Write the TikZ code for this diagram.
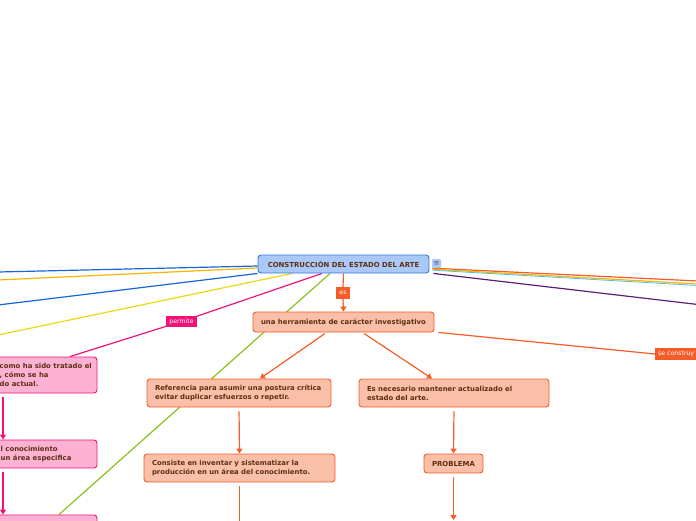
\documentclass[tikz,border=0pt]{standalone}
\usepackage{fontspec}
\setmainfont{DejaVu Sans}
\usetikzlibrary{arrows.meta,backgrounds}
\definecolor{texto}{RGB}{92,48,16}
\definecolor{cenfondo}{RGB}{170,201,249}
\definecolor{cenborde}{RGB}{52,118,220}
\definecolor{naranja}{RGB}{244,92,40}
\definecolor{salmon}{RGB}{249,191,168}
\definecolor{fucsia}{RGB}{240,18,120}
\definecolor{rosado}{RGB}{253,178,212}
\definecolor{azul}{RGB}{22,102,212}
\definecolor{ambar}{RGB}{246,182,0}
\definecolor{amarillo}{RGB}{236,216,20}
\definecolor{verde}{RGB}{140,192,30}
\definecolor{morado}{RGB}{96,28,120}
\definecolor{celeste}{RGB}{80,190,230}
\definecolor{gris}{RGB}{80,80,80}
\begin{document}
\begin{tikzpicture}[x=1pt, y=-1pt,
    font=\fontsize{6.9}{9}\selectfont\bfseries,
    caja/.style={rounded corners=3pt, line width=0.9pt, text=texto, inner sep=0pt},
    central/.style={caja, draw=cenborde, fill=cenfondo, minimum width=171pt, minimum height=18pt},
    menu/.style={fill=cenfondo, rounded corners=1pt, minimum size=9pt, inner sep=0pt,
        text=gris, font=\fontsize{7}{7}\selectfont},
    idea/.style={caja, draw=naranja, fill=salmon, minimum height=28pt, align=left},
    rosa/.style={caja, draw=fucsia, fill=rosado},
    etiqueta/.style={fill=#1, text=white, font=\fontsize{6.2}{7}\selectfont,
        inner xsep=3pt, inner ysep=0pt, minimum height=11.5pt},
    linea/.style={draw=#1, line width=1.2pt},
    flecha/.style={linea=#1, -{Triangle[length=5pt, width=6pt]}}]
  \useasboundingbox (0,0) rectangle (696,520);
  \clip (0,0) rectangle (696,520);

  % centro
  \node[central] (arte) at (343.5,264) {CONSTRUCCIÓN DEL ESTADO DEL ARTE};
  \node[menu] (menu) at (436.5,263.5) {≡};
  \node[etiqueta=naranja] (es) at (343,293) {es};

  % rama naranja
  \node[idea, minimum width=181pt, minimum height=20pt, align=center] (herr) at (343.5,322)
    {una herramienta de carácter investigativo};
  \node[idea, text width=168pt, inner xsep=8pt] (ref) at (239,393)
    {Referencia para asumir una postura crítica\\evitar duplicar esfuerzos o repetir.};
  \node[idea, text width=174pt, inner xsep=8pt] (nec) at (454,393)
    {Es necesario mantener actualizado el\\estado del arte.};
  \node[idea, text width=175pt, inner xsep=8pt] (cons) at (239.5,468)
    {Consiste en inventar y sistematizar la\\producción en un área del conocimiento.};
  \node[idea, minimum width=59pt, minimum height=19pt] (prob) at (453.5,463.5) {PROBLEMA};
  \node[etiqueta=naranja, anchor=west] (construye) at (655,354) {se construy};

  % rama rosa
  \node[etiqueta=fucsia] (permite) at (181.5,321.5) {permite};
  \node[rosa, minimum width=188pt, minimum height=36pt] (trato) at (3,375) {};
  \node[anchor=west, align=left, text=texto, inner sep=0pt] (tratotxt) at (-0.5,375)
    {como ha sido tratado el\\, cómo se ha\\do actual.};
  \node[rosa, minimum width=188pt, minimum height=28pt] (area) at (3,454) {};
  \node[anchor=west, align=left, text=texto, inner sep=0pt] (areatxt) at (0.5,454)
    {l conocimiento\\un área especifica};
  \node[rosa, minimum width=188pt, minimum height=32pt] (tercero) at (3,531) {};

  % extremos fuera del cuadro
  \coordinate (izq1) at (-2,272);
  \coordinate (izq2) at (-2,280);
  \coordinate (izq3) at (-2,305);
  \coordinate (izq4) at (-2,335);
  \coordinate (der1) at (698,281);
  \coordinate (der2) at (698,284);
  \coordinate (der3) at (698,285.5);
  \coordinate (der4) at (698,304.5);
  \coordinate (fin1) at (239.5,524);
  \coordinate (fin2) at (453.5,520);

  \begin{scope}[on background layer]
    \draw[linea=azul] ([yshift=-2pt]arte.west) -- (izq1);
    \draw[linea=ambar] ([yshift=-4pt]arte.west) -- (izq2);
    \draw[linea=azul] (arte.south west) -- (izq3);
    \draw[linea=amarillo] ([xshift=-51.5pt]arte.south) -- (izq4);
    \draw[linea=fucsia] ([xshift=-21.5pt]arte.south) -- (permite) -- ([xshift=67pt]trato.north);
    \draw[linea=verde] ([xshift=-13.5pt]arte.south) -- ([xshift=56pt]tercero.north);

    \draw[linea=naranja] ([xshift=-4pt]menu.south) -- (der1);
    \draw[linea=ambar] ([xshift=-4pt,yshift=-1pt]menu.south) -- (der2);
    \draw[linea=celeste, line width=0.8pt] ([xshift=-4pt,yshift=-2pt]menu.south) -- (der3);
    \draw[linea=morado] ([xshift=4pt]arte.south east) -- (der4);

    \draw[linea=naranja] (arte.south) -- (es.north);
    \draw[flecha=naranja] (es.south) -- (herr.north);
    \draw[linea=naranja] ([xshift=4pt]herr.south east) -- (construye.west);
    \draw[flecha=naranja, shorten <=2pt] ([xshift=-17pt]herr.south) -- ([xshift=21pt]ref.north);
    \draw[flecha=naranja, shorten <=2pt] ([xshift=19pt]herr.south) -- ([xshift=-22pt]nec.north);
    \draw[flecha=naranja, shorten <=4pt] (ref.south) -- (cons.north);
    \draw[flecha=naranja, shorten <=4pt] (nec.south) -- (prob.north);
    \draw[linea=naranja, shorten <=4pt] (cons.south) -- (fin1);
    \draw[flecha=naranja, shorten <=4pt] (prob.south) -- (fin2);

    \draw[flecha=fucsia, shorten <=4pt] (trato.south) -- (area.north);
    \draw[flecha=fucsia, shorten <=4pt] (area.south) -- (tercero.north);
  \end{scope}
\end{tikzpicture}
\end{document}
